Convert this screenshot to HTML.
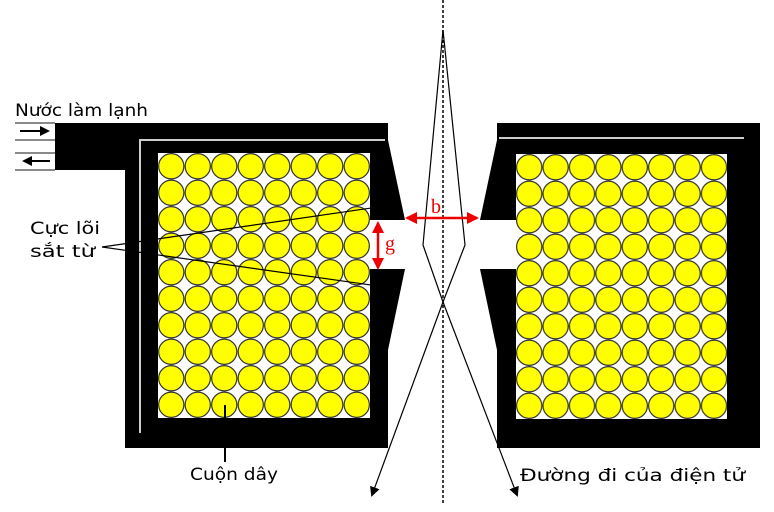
<!DOCTYPE html>
<html><head><meta charset="utf-8"><style>
body{margin:0;background:#fff}
svg{display:block}
text{font-family:"DejaVu Sans","Liberation Sans",sans-serif;font-size:17px;fill:#000}
</style></head><body>
<svg width="774" height="512" viewBox="0 0 774 512" xmlns="http://www.w3.org/2000/svg">
<defs>
<pattern id="coilL" x="158" y="153" width="26.5" height="26.5" patternUnits="userSpaceOnUse">
<rect width="26.5" height="26.5" fill="#fff"/>
<circle cx="13.25" cy="13.25" r="12.6" fill="#ffff00" stroke="#333" stroke-width="1.2"/>
</pattern>
<pattern id="coilR" x="516" y="154" width="26.4" height="26.5" patternUnits="userSpaceOnUse">
<rect width="26.5" height="26.5" fill="#fff"/>
<circle cx="13.2" cy="13.25" r="12.6" fill="#ffff00" stroke="#333" stroke-width="1.2"/>
</pattern>
<marker id="ah" markerWidth="10" markerHeight="10" refX="8" refY="5" orient="auto" markerUnits="userSpaceOnUse"><path d="M0,0 L10,5 L0,10 z" fill="#000"/></marker>
<marker id="rh" markerWidth="12" markerHeight="12" refX="10" refY="6" orient="auto" markerUnits="userSpaceOnUse"><path d="M0,0 L12,6 L0,12 z" fill="#e00"/></marker>
</defs>
<path d="M55,123 L388,123 L388,140 L405,220 L370,220 L370,269 L405,269 L388,350 L388,448 L125,448 L125,170 L55,170 Z" fill="#000"/>
<rect x="158" y="153" width="212" height="265" fill="url(#coilL)"/>
<path d="M140,433 L140,140 L385,140" stroke="#ccc" stroke-width="2" fill="none"/>
<path d="M497,123 L760,123 L760,448 L497,448 L497,350 L480,269 L516,269 L516,220 L480,220 L497,140 Z" fill="#000"/>
<rect x="516" y="154" width="211" height="265" fill="url(#coilR)"/>
<path d="M499,138 L744,138" stroke="#ccc" stroke-width="2"/>
<g stroke="#444" stroke-width="1.2">
<line x1="15" y1="123" x2="55" y2="123"/><line x1="15" y1="140" x2="55" y2="140"/>
<line x1="15" y1="153" x2="55" y2="153"/><line x1="15" y1="170" x2="55" y2="170"/>
</g>
<line x1="20" y1="131" x2="48" y2="131" stroke="#000" stroke-width="2" marker-end="url(#ah)"/>
<line x1="50" y1="161" x2="24" y2="161" stroke="#000" stroke-width="2" marker-end="url(#ah)"/>
<text x="15" y="116" textLength="133" lengthAdjust="spacingAndGlyphs">Nước làm lạnh</text>
<line x1="443" y1="0" x2="443" y2="505" stroke="#000" stroke-width="1.5" stroke-dasharray="3,2"/>
<g stroke="#000" stroke-width="1.2" fill="none">
<path d="M443,30 L423,245 L443,302 L517,495" marker-end="url(#ah)"/>
<path d="M443,30 L465,245 L443,302 L372,495" marker-end="url(#ah)"/>
</g>
<line x1="378" y1="245" x2="378" y2="223" stroke="#e00" stroke-width="2.5" marker-end="url(#rh)"/>
<line x1="378" y1="245" x2="378" y2="268" stroke="#e00" stroke-width="2.5" marker-end="url(#rh)"/>
<line x1="442" y1="218" x2="407" y2="218" stroke="#e00" stroke-width="2.5" marker-end="url(#rh)"/>
<line x1="442" y1="218" x2="477" y2="218" stroke="#e00" stroke-width="2.5" marker-end="url(#rh)"/>
<text x="431" y="213" style="font-family:'Liberation Serif',serif;font-size:20px;fill:#e00">b</text>
<text x="385" y="250" style="font-family:'Liberation Serif',serif;font-size:20px;fill:#e00">g</text>
<text x="30" y="234" textLength="70" lengthAdjust="spacingAndGlyphs">Cực lõi</text>
<text x="30" y="257" textLength="65" lengthAdjust="spacingAndGlyphs">sắt từ</text>
<g stroke="#000" stroke-width="1.2">
<line x1="102" y1="247" x2="385" y2="206"/>
<line x1="102" y1="247" x2="385" y2="287"/>
</g>
<line x1="225" y1="405" x2="225" y2="462" stroke="#000" stroke-width="2"/>
<text x="190" y="480" textLength="88" lengthAdjust="spacingAndGlyphs">Cuộn dây</text>
<text x="520" y="481" textLength="225" lengthAdjust="spacingAndGlyphs">Đường đi của điện tử</text>
</svg>
</body></html>
